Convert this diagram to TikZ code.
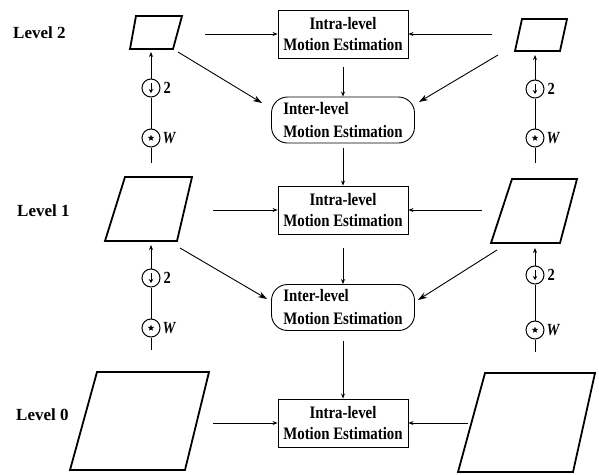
\documentclass[tikz,border=0pt]{standalone}
\usepackage{fontspec}
\setmainfont{Liberation Serif}
\newfontfamily\boxfont[FakeStretch=0.85]{Liberation Serif}
\usetikzlibrary{arrows.meta,shapes.geometric}
\tikzset{
  lvl/.style={anchor=west, inner sep=0pt, font=\bfseries\fontsize{17}{20}\selectfont},
  intra/.style={draw, line width=0.9pt, minimum width=130pt, minimum height=48pt, inner sep=0pt,
    align=center, font=\boxfont\bfseries\fontsize{17.5}{21}\selectfont},
  inter/.style={draw, line width=0.9pt, rounded corners=16pt, minimum width=143pt, minimum height=46pt,
    inner sep=0pt, align=left, font=\boxfont\bfseries\fontsize{17.5}{23}\selectfont},
  para/.style={line width=1.8pt, line join=miter},
  conn/.style={line width=0.8pt, -{Stealth[length=5pt,width=4pt]}},
  diag/.style={line width=0.9pt, -{Stealth[length=9pt,width=6pt]}},
  circ/.style={draw, circle, line width=1pt, minimum size=18pt, inner sep=0pt},
  clbl/.style={anchor=west, inner sep=0pt, font=\boxfont\bfseries\fontsize{17}{20}\selectfont},
  chain/.style={line width=0.8pt},
  dsym/.style={line width=0.9pt, -{Stealth[length=4pt,width=4.5pt]}},
  ssym/.style={star, star points=5, star point ratio=2.2, fill, inner sep=0pt, minimum size=6.5pt},
}
\begin{document}
\begin{tikzpicture}[x=1pt,y=-1pt]
\useasboundingbox (0,0) rectangle (599,474);

% level labels
\node[lvl] (L2) at (13,33) {Level 2};
\node[lvl] (L1) at (17,211) {Level 1};
\node[lvl] (L0) at (16,415) {Level 0};

% parallelograms (frames)
\draw[para] (136,16) -- (182,16) -- (173,49) -- (130,49) -- cycle;
\draw[para] (522,19) -- (567,19) -- (560,51) -- (515,51) -- cycle;
\draw[para] (125,177) -- (192,177) -- (177,241) -- (105,241) -- cycle;
\draw[para] (512,179) -- (577,179) -- (560,243) -- (491,243) -- cycle;
\draw[para] (97,372) -- (209,372) -- (185,470) -- (70,470) -- cycle;
\draw[para] (485,373) -- (595,373) -- (573,472) -- (458,472) -- cycle;

% boxes
\node[intra] (intra2) at (343,34) {Intra-level\\Motion Estimation};
\node[inter] (inter2) at (343,120) {Inter-level\\Motion Estimation};
\node[intra] (intra1) at (343,210) {Intra-level\\Motion Estimation};
\node[inter] (inter1) at (343,307.5) {Inter-level\\Motion Estimation};
\node[intra] (intra0) at (343,423) {Intra-level\\Motion Estimation};

% horizontal arrows
\coordinate (la2) at (205,34);
\coordinate (ra2) at (492,34);
\coordinate (la1) at (213,210);
\coordinate (ra1) at (482,210);
\coordinate (la0) at (213,423);
\coordinate (ra0) at (468,423);
\draw[conn] (la2) -- (intra2.west);
\draw[conn] (ra2) -- (intra2.east);
\draw[conn] (la1) -- (intra1.west);
\draw[conn] (ra1) -- (intra1.east);
\draw[conn] (la0) -- (intra0.west);
\draw[conn] (ra0) -- (intra0.east);

% vertical arrows between boxes
\draw[conn, shorten <=9pt] (intra2.south) -- (inter2.north);
\draw[conn, shorten <=5pt] (inter2.south) -- (intra1.north);
\draw[conn, shorten <=14pt] (intra1.south) -- (inter1.north);
\draw[conn, shorten <=10pt] (inter1.south) -- (intra0.north);

% diagonal arrows
\coordinate (dl2s) at (178,52);  \coordinate (dl2e) at (262,103);
\coordinate (dr2s) at (498,55);  \coordinate (dr2e) at (419,102);
\coordinate (dl1s) at (180,248); \coordinate (dl1e) at (267,299);
\coordinate (dr1s) at (497,250); \coordinate (dr1e) at (418,300);
\draw[diag] (dl2s) -- (dl2e);
\draw[diag] (dr2s) -- (dr2e);
\draw[diag] (dl1s) -- (dl1e);
\draw[diag] (dr1s) -- (dr1e);

% chains: downsample and filter
\node[circ] (dL2) at (151,88) {};
\node[circ] (wL2) at (151,138) {};
\coordinate (tL2) at (151,52);
\coordinate (bL2) at (151,163);
\node[circ] (dL1) at (151,278) {};
\node[circ] (wL1) at (151,328) {};
\coordinate (tL1) at (151,245);
\coordinate (bL1) at (151,350);
\node[circ] (dR2) at (535,89) {};
\node[circ] (wR2) at (535,138) {};
\coordinate (tR2) at (535,55);
\coordinate (bR2) at (535,163);
\node[circ] (dR1) at (535,275) {};
\node[circ] (wR1) at (535,330) {};
\coordinate (tR1) at (535,248);
\coordinate (bR1) at (535,352);

\foreach \s in {L2,L1,R2,R1}{
  \draw[chain] (b\s) -- (w\s);
  \draw[chain] (w\s) -- (d\s);
  \draw[conn] (d\s) -- (t\s);
  \draw[dsym] ([yshift=5pt]d\s.center) -- ([yshift=-5pt]d\s.center);
  \node[ssym] at (w\s.center) {};
  \node[clbl] at ([xshift=3pt]d\s.east) {2};
  \node[clbl] at ([xshift=2pt]w\s.east) {\itshape W};
}
\end{tikzpicture}
\end{document}
